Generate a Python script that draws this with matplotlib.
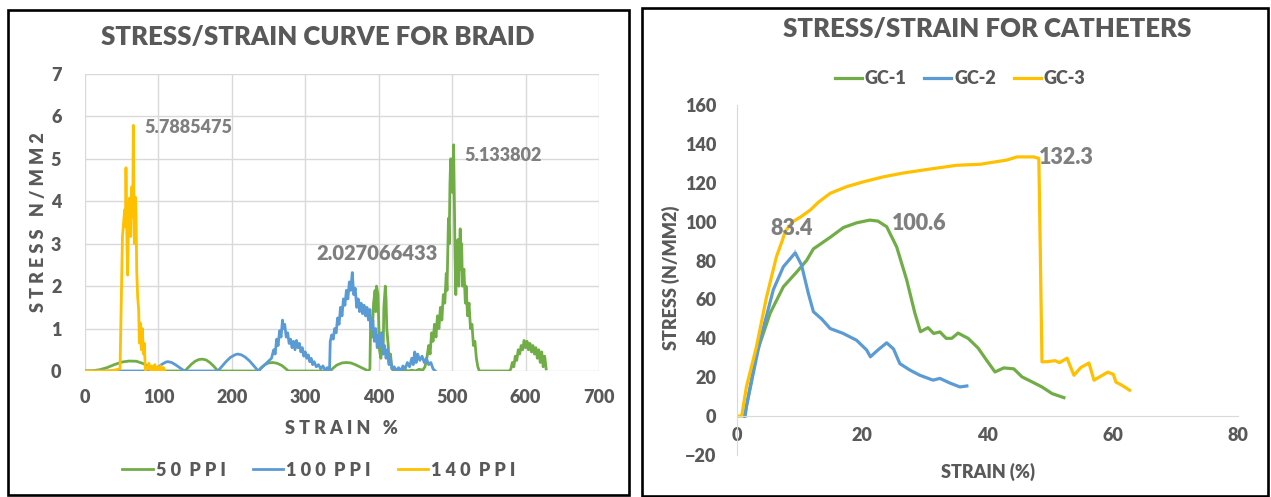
import matplotlib
matplotlib.use("Agg")
import matplotlib.pyplot as plt
from matplotlib.patches import Rectangle

plt.rcParams['font.family'] = ['Lato', 'DejaVu Sans']
WT = 'heavy'
plt.rcParams['font.weight'] = WT

GREEN = '#70AD47'
BLUE = '#5B9BD5'
GOLD = '#FFC000'
TXT = '#595959'
LBL = '#7F7F7F'

# ---- braid data (strain %, stress N/mm2) ----
x_50 = [0, 10, 20, 30, 40, 50, 60, 70, 80, 88, 95, 100, 136,
        140, 145, 150, 155, 160, 165, 170, 175, 181, 236,
        240, 245, 250, 256, 262, 268, 273, 277, 334,
        338, 343, 350, 356, 362, 368, 374, 381, 386,
        388, 389, 391, 393, 395, 396, 397, 399, 400, 401, 403, 404, 406, 407, 409, 410, 411,
        413, 414, 416, 418, 421, 425, 430, 435, 440, 445, 450, 455, 460, 463,
        466, 468, 470, 472, 474, 476, 478, 480, 482, 484, 486, 488, 490, 492, 493, 494, 495,
        496, 497, 498, 499, 500, 501, 502, 503, 504, 505, 506, 507, 508, 509, 510, 511, 512,
        513, 514, 516, 518, 519, 521, 523, 525, 527, 529, 531, 533, 535, 537, 578,
        580, 582, 584, 586, 588, 590, 592, 594, 596, 598, 600, 602, 604, 606, 608, 610,
        612, 614, 616, 618, 620, 622, 624, 626, 628]
y_50 = [0, 0.005, 0.03, 0.08, 0.15, 0.21, 0.235, 0.23, 0.17, 0.08, 0.0, 0, 0,
        0.07, 0.16, 0.23, 0.27, 0.28, 0.26, 0.2, 0.12, 0, 0,
        0.08, 0.15, 0.19, 0.2, 0.18, 0.13, 0.06, 0, 0,
        0.07, 0.14, 0.19, 0.2, 0.19, 0.15, 0.1, 0.04, 0.0,
        0.05, 1.2, 0.8, 1.6, 1.9, 1.4, 2.0, 1.8, 1.1, 0.5, 0.3, 0.9, 0.4, 1.5, 2.0, 1.7, 1.0,
        0.6, 0.2, 0.4, 0.05, 0, 0.02, 0, 0.03, 0, 0.02, 0, 0.04, 0.02, 0.1,
        0.35, 0.6, 0.4, 0.9, 0.7, 1.1, 0.8, 1.3, 1.0, 1.5, 1.2, 1.8, 1.6, 2.3, 1.9, 2.8, 3.6,
        3.0, 4.4, 5.0, 4.6, 5.0, 4.2, 5.33, 4.0, 2.7, 1.8, 2.9, 2.2, 3.1, 2.0, 2.8, 3.35, 2.4,
        3.0, 2.0, 2.4, 1.6, 2.0, 1.3, 1.6, 1.0, 1.1, 0.6, 0.7, 0.3, 0.1, 0, 0,
        0.05, 0.2, 0.1, 0.35, 0.25, 0.5, 0.4, 0.6, 0.5, 0.72, 0.55, 0.7, 0.5, 0.65, 0.45, 0.6,
        0.4, 0.55, 0.3, 0.5, 0.2, 0.45, 0.1, 0.35, 0.05]

x_100 = [0, 95, 100, 105, 110, 113, 118, 123, 128, 132, 136, 181, 186, 192, 198, 204, 208,
         213, 218, 224, 230, 236, 242, 248, 254, 257, 259, 261, 263, 265, 267, 269, 270,
         272, 274, 276, 278, 280, 282, 284, 286, 288, 290, 292, 294, 296, 298, 300, 302,
         304, 306, 308, 310, 312, 315, 318, 321, 324, 327, 330, 333, 334, 336, 338, 340,
         342, 344, 346, 348, 350, 352, 354, 356, 358, 360, 362, 364, 366, 368, 370, 372,
         374, 376, 378, 380, 382, 384, 386, 388, 390, 392, 394, 396, 398, 400, 402, 404,
         406, 408, 410, 412, 414, 416, 418, 421, 424, 427, 430, 433, 436, 439, 442, 445,
         447, 449, 451, 453, 456, 459, 462, 465, 468, 471, 474, 477]
y_100 = [0, 0, 0.09, 0.16, 0.21, 0.22, 0.2, 0.15, 0.09, 0.04, 0, 0, 0.1, 0.22, 0.32, 0.38, 0.4,
         0.38, 0.33, 0.24, 0.12, 0, 0.1, 0.2, 0.3, 0.5, 0.4, 0.75, 0.6, 0.95, 0.8, 1.2, 1.0,
         1.1, 0.8, 0.9, 0.65, 0.75, 0.55, 0.7, 0.5, 0.72, 0.55, 0.65, 0.45, 0.55, 0.35, 0.45, 0.3,
         0.38, 0.22, 0.3, 0.15, 0.22, 0.1, 0.15, 0.05, 0.12, 0.02, 0.08, 0.0, 0.7, 0.85, 0.75, 1.0,
         0.9, 1.25, 1.1, 1.5, 1.3, 1.7, 1.55, 1.9, 1.7, 2.1, 1.9, 2.32, 1.8, 1.95, 1.5, 1.7,
         1.4, 1.6, 1.35, 1.55, 1.3, 1.5, 1.2, 1.45, 1.0, 1.2, 0.7, 1.0, 0.55, 0.85, 0.6, 0.9,
         0.4, 0.6, 0.3, 0.5, 0.15, 0.3, 0.05, 0.1, 0.0, 0.08, 0.0, 0.12, 0.05, 0.2, 0.1, 0.3,
         0.15, 0.45, 0.2, 0.4, 0.25, 0.35, 0.2, 0.3, 0.15, 0.2, 0.05, 0.0]

x_140 = [0, 10, 20, 30, 40, 47.7, 51, 54, 55, 55.8, 57.3, 58.1, 59.5, 60.8, 62.2, 63.6, 65,
         65.8, 67.2, 68.6, 69.5, 70.4, 71.7, 73.1, 74, 75.4, 76.8, 78.1, 79.5, 80.8, 82.2,
         85, 87, 89, 91, 93, 95, 97, 99, 101, 103, 105, 107, 109]
y_140 = [0, 0, 0, 0, 0.02, 0.05, 3.17, 3.8, 3.4, 4.79, 2.85, 2.26, 3.8, 4.08, 3.17, 4.34, 3.64,
         5.79, 3.0, 4.1, 3.8, 2.38, 1.75, 1.44, 0.66, 1.13, 0.5, 1.0, 0.4, 0.65, 0.0,
         0.05, 0.18, 0.02, 0.12, 0.0, 0.15, 0.02, 0.1, 0.0, 0.12, 0.02, 0.08, 0.0]

braid_labels = ['5 0  P P I', '1 0 0  P P I', '1 4 0  P P I']

# ---- catheter data (strain %, stress N/mm2) ----
x_gc1 = [1.1, 1.3, 3.1, 5.3, 7.4, 9.5, 11.1, 12.2, 14.9, 17, 19.1, 21.2, 22.5, 23.9, 25.5,
         27.1, 28.4, 29.3, 30.5, 31.4, 32.4, 33.4, 34.3, 35.3, 36.9, 38.5, 39.8, 41.2,
         42.6, 44.2, 45.5, 47, 48.7, 50.3, 52.2]
y_gc1 = [0, 1.5, 32, 53, 66.5, 74, 80, 86, 92, 97, 99.4, 100.8, 100.3, 97.4, 87,
         70, 53, 43.4, 45.5, 42.5, 43.3, 40, 40, 42.7, 40, 35, 29, 22.7,
         24.8, 24.3, 20.2, 17.8, 15, 11.6, 9.5]

x_gc2 = [1.3, 1.5, 3.7, 5.8, 7.4, 9.3, 10.3, 11.4, 12.2, 13.5, 14.9, 16.9, 19.1, 20.7, 21.3,
         22.5, 23.9, 25, 26, 27.6, 29.2, 31.3, 32.4, 34, 35.6, 36.7]
y_gc2 = [0, 5, 39, 65, 76.8, 84, 77.7, 63, 53.7, 50, 45, 42.6, 39, 34, 30.5,
         34, 37.7, 34.5, 27, 23.7, 21, 18.5, 19.4, 17, 15, 15.5]

x_gc3 = [0, 0.75, 1.5, 3.1, 4.7, 6.3, 7.2, 7.7, 8.9, 10.2, 11.7, 13, 14.9, 17.5, 20.2, 23.3,
         26.5, 30.7, 35.1, 38.8, 43.1, 44.7, 47.4, 48.2, 48.7, 49.5, 50.8, 51.5, 52.7, 53.8,
         54.9, 56.2, 57, 59.2, 60.1, 60.5, 61.5, 62.7]
y_gc3 = [0, 0, 15, 35.6, 61, 82, 90, 95, 100, 102.5, 106, 110, 114.6, 118, 120.5, 123,
         125, 127, 129, 129.5, 131.7, 133.3, 133.3, 132.5, 27.9, 28, 28.5, 27.5, 29.8, 21,
         25, 27.3, 18.5, 22.6, 21.5, 17.5, 15.8, 13.3]

gc_labels = ['GC-1', 'GC-2', 'GC-3']

W, H = 1271, 497
fig = plt.figure(figsize=(W / 100, H / 100), dpi=100)
fig.patch.set_facecolor('white')

# panel borders
fig.add_artist(Rectangle((8 / W, 1 - 495 / H), 621 / W, 485 / H, transform=fig.transFigure,
                         fill=False, ec='black', lw=1.9))
fig.add_artist(Rectangle((642 / W, 1 - 496 / H), 626 / W, 488 / H, transform=fig.transFigure,
                         fill=False, ec='black', lw=1.9))

# ---------------- left: braid ----------------
ax1 = fig.add_axes([85 / W, 1 - 371 / H, 514 / W, 297 / H])
l1, = ax1.plot(x_50, y_50, color=GREEN, lw=2)
l2, = ax1.plot(x_100, y_100, color=BLUE, lw=2)
l3, = ax1.plot(x_140, y_140, color=GOLD, lw=2)
ax1.set_xlim(0, 700)
ax1.set_ylim(0, 7)
ax1.set_xticks(range(0, 701, 100))
ax1.set_yticks(range(0, 8))
ax1.grid(True, color='#d9d9d9', lw=1)
ax1.set_axisbelow(True)
for s in ax1.spines.values():
    s.set_visible(False)
ax1.tick_params(axis='both', length=0, labelsize=13, labelcolor=TXT)
ax1.tick_params(axis='x', pad=13)
ax1.tick_params(axis='y', pad=17)
for t in ax1.get_xticklabels() + ax1.get_yticklabels():
    t.set_fontweight(WT)

ax1.text(81, 5.73, '5.7885475', color=LBL, fontsize=13, fontweight=WT, va='center')
ax1.text(517, 5.09, '5.133802', color=LBL, fontsize=13, fontweight=WT, va='center')
ax1.text(398, 2.76, '2.027066433', color=LBL, fontsize=14.5, fontweight=WT,
         va='center', ha='center')

fig.text(318 / W, 1 - 37 / H, 'STRESS/STRAIN CURVE FOR BRAID', ha='center', va='center',
         fontsize=18.5, fontweight=WT, color=TXT)
fig.text(341 / W, 1 - 428 / H, 'S T R A I N   %', ha='center', va='center',
         fontsize=13, fontweight=WT, color=TXT)
fig.text(39 / W, 1 - 222 / H, 'S T R E S S   N / M M 2', ha='center', va='center',
         rotation=90, fontsize=13, fontweight=WT, color=TXT)
fig.legend([l1, l2, l3], braid_labels, loc='center', bbox_to_anchor=(319 / W, 1 - 470 / H),
           ncol=3, frameon=False, handlelength=1.7, handletextpad=0.15, columnspacing=1.5,
           prop={'size': 13, 'weight': WT}, labelcolor=TXT)

# ---------------- right: catheters ----------------
ax2 = fig.add_axes([737 / W, 1 - 455 / H, 501 / W, 350 / H])
g1, = ax2.plot(x_gc1, y_gc1, color=GREEN, lw=2.3)
g2, = ax2.plot(x_gc2, y_gc2, color=BLUE, lw=2.3)
g3, = ax2.plot(x_gc3, y_gc3, color=GOLD, lw=2.3)
ax2.set_xlim(0, 80)
ax2.set_ylim(-20, 160)
ax2.set_xticks(range(0, 81, 20))
ax2.set_yticks(range(-20, 161, 20))
ax2.spines['top'].set_visible(False)
ax2.spines['right'].set_visible(False)
ax2.spines['left'].set_color('#d9d9d9')
ax2.spines['bottom'].set_color('#d9d9d9')
ax2.spines['bottom'].set_position(('data', 0))
ax2.tick_params(axis='both', length=0, labelsize=13, labelcolor=TXT)
ax2.tick_params(axis='x', pad=8)
ax2.tick_params(axis='y', pad=15)
for t in ax2.get_xticklabels() + ax2.get_yticklabels():
    t.set_fontweight(WT)

ax2.annotate('83.4', xy=(9.3, 84.4), xytext=(8.8, 96.5), ha='center', va='center',
             color=LBL, fontsize=15.5, fontweight=WT,
             arrowprops=dict(arrowstyle='-', color='#a6a6a6', lw=0.8, shrinkA=6, shrinkB=1))
ax2.text(24.8, 99.3, '100.6', color=LBL, fontsize=15.5, fontweight=WT, va='center')
ax2.text(48.2, 133, '132.3', color=LBL, fontsize=15.5, fontweight=WT, va='center')

fig.text(987 / W, 1 - 29 / H, 'STRESS/STRAIN FOR CATHETERS', ha='center', va='center',
         fontsize=18.5, fontweight=WT, color=TXT)
fig.text(988 / W, 1 - 472 / H, 'STRAIN (%)', ha='center', va='center',
         fontsize=13, fontweight=WT, color=TXT)
fig.text(671 / W, 1 - 278 / H, 'STRESS (N/MM2)', ha='center', va='center', rotation=90,
         fontsize=13, fontweight=WT, color=TXT)
fig.legend([g1, g2, g3], gc_labels, loc='center', bbox_to_anchor=(960 / W, 1 - 79 / H),
           ncol=3, frameon=False, handlelength=1.5, handletextpad=0.15, columnspacing=1.0,
           prop={'size': 13, 'weight': WT}, labelcolor=TXT)

fig.savefig('out.png', dpi=100, facecolor='white')
